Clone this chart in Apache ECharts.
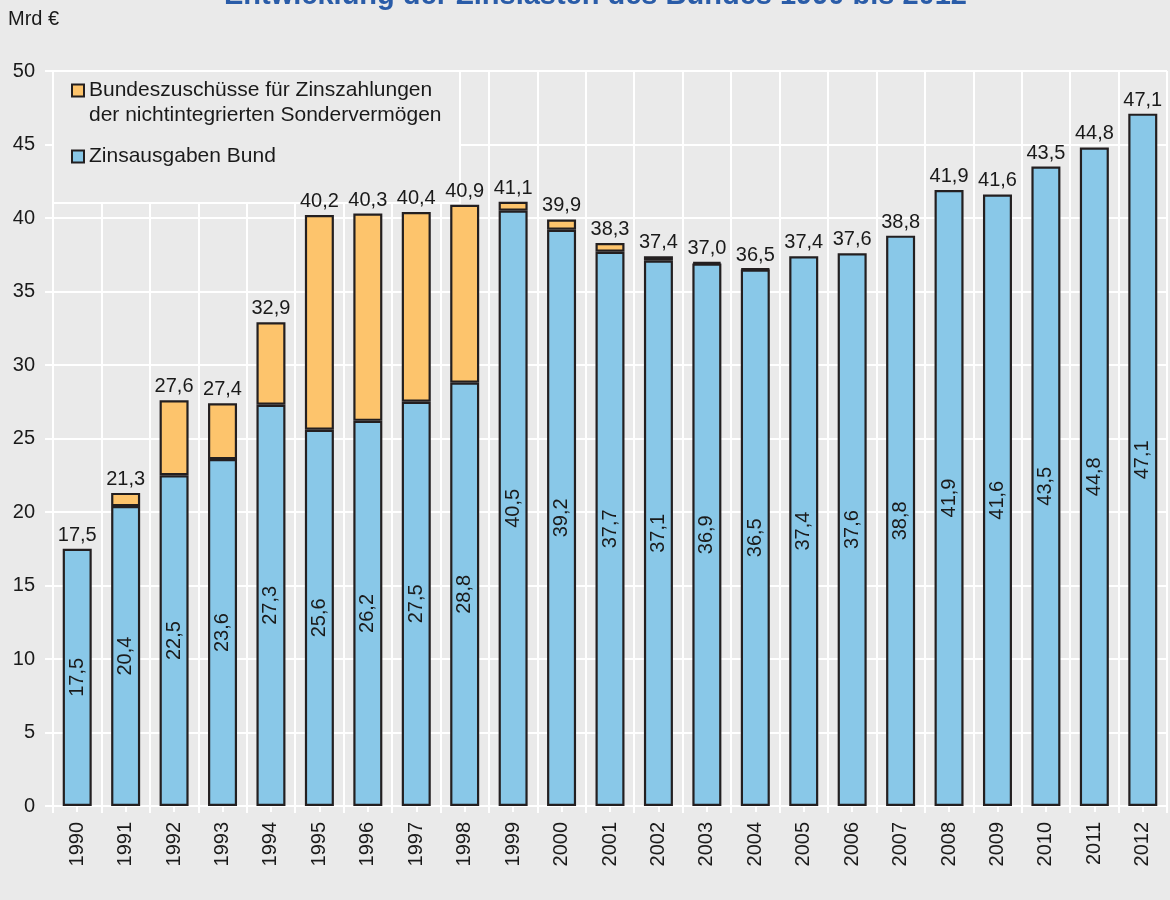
<!DOCTYPE html>
<html>
<head>
<meta charset="utf-8">
<script src="https://cdn.jsdelivr.net/npm/echarts@6/dist/echarts.min.js"></script>
<style>
html,body{margin:0;padding:0;background:#eaeaea;}
#chart{width:1170px;height:900px;}
</style>
</head>
<body>
<div id="chart"></div>
<script>
const years = ['1990','1991','1992','1993','1994','1995','1996','1997','1998','1999','2000','2001','2002','2003','2004','2005','2006','2007','2008','2009','2010','2011','2012'];
const zinsausgabenBund = [17.5,20.4,22.5,23.6,27.3,25.6,26.2,27.5,28.8,40.5,39.2,37.7,37.1,36.9,36.5,37.4,37.6,38.8,41.9,41.6,43.5,44.8,47.1];
const bundeszuschuesse = [0,0.9,5.1,3.8,5.6,14.6,14.1,12.9,12.1,0.6,0.7,0.6,0.3,0.1,0.05,0,0,0,0,0,0,0,0];
const totals = [17.5,21.3,27.6,27.4,32.9,40.2,40.3,40.4,40.9,41.1,39.9,38.3,37.4,37.0,36.5,37.4,37.6,38.8,41.9,41.6,43.5,44.8,47.1];
const yTicks = {min:0, max:50, interval:5};

const nameOrange = 'Bundeszuschüsse für Zinszahlungen\nder nichtintegrierten Sondervermögen';
const nameBlue = 'Zinsausgaben Bund';
const FONT = 'Liberation Sans, Arial, sans-serif';
const TXT = '#1a1a1a';
const fmt = v => Number(v).toFixed(1).replace('.', ',');

const chart = echarts.init(document.getElementById('chart'));
const white = '#ffffff';
chart.setOption({
  backgroundColor:'#eaeaea',
  animation:false,
  textStyle:{fontFamily:FONT},
  title:{
    text:'Entwicklung der Zinslasten des Bundes 1990 bis 2012',
    left:219, top:-24,
    textStyle:{fontFamily:FONT, fontSize:29, fontWeight:'bold', color:'#2a5ca8'}
  },
  graphic:[
    {type:'text', left:8, top:9, style:{text:'Mrd €', fontFamily:FONT, fontSize:20, fill:TXT}},
    {type:'rect', z:1, shape:{x:53, y:71, width:407, height:132}, style:{fill:'#eaeaea', stroke:white, lineWidth:2}}
  ],
  legend:{
    orient:'vertical', left:71, top:53, padding:0, itemGap:16,
    itemWidth:12, itemHeight:12, icon:'rect',
    data:[nameOrange, nameBlue],
    formatter: n => (n === nameOrange ? '\n' + n : n),
    textStyle:{fontFamily:FONT, fontSize:21, color:TXT, lineHeight:25}
  },
  grid:{left:53, right:3, top:71, bottom:94},
  xAxis:[
    {type:'category', data:years, boundaryGap:true,
     axisLine:{lineStyle:{color:white, width:2}},
     axisTick:{show:true, alignWithLabel:true, length:6, lineStyle:{color:white, width:2}},
     axisLabel:{rotate:90, fontSize:20, color:TXT, margin:16, fontFamily:FONT},
     splitLine:{show:true, lineStyle:{color:white, width:2}}},
    {type:'category', data:years, boundaryGap:true, position:'bottom',
     axisLine:{show:false},
     axisTick:{show:true, length:7, lineStyle:{color:white, width:2}},
     axisLabel:{show:false}, splitLine:{show:false}},
    {type:'category', data:years, boundaryGap:true, position:'bottom',
     axisLine:{show:false},
     axisTick:{show:true, inside:true, alignWithLabel:true, length:6, lineStyle:{color:white, width:2}},
     axisLabel:{show:false}, splitLine:{show:false}}
  ],
  yAxis:{
    type:'value', min:yTicks.min, max:yTicks.max, interval:yTicks.interval,
    axisLine:{show:true, lineStyle:{color:white, width:2}},
    axisTick:{show:true, length:8, lineStyle:{color:white, width:2}},
    axisLabel:{fontSize:20, color:TXT, margin:18, fontFamily:FONT},
    splitLine:{show:true, lineStyle:{color:white, width:2}}
  },
  series:[
    {name:nameBlue, type:'bar', stack:'s', data:zinsausgabenBund, barWidth:29, z:10,
     itemStyle:{color:'#89c8e8', borderColor:'#231f20', borderWidth:2.2},
     label:{show:true, position:'inside', rotate:90, fontSize:20, color:TXT, fontFamily:FONT,
            formatter:p=>fmt(p.value)}},
    {name:nameOrange, type:'bar', stack:'s', barWidth:29, z:10,
     data:bundeszuschuesse.map(v => (v === 0 ? '-' : v)),
     itemStyle:{color:'#fdc46c', borderColor:'#231f20', borderWidth:2.2}},
    {name:'total', type:'scatter', data:totals, symbolSize:1, z:11,
     itemStyle:{color:'rgba(0,0,0,0)', opacity:1},
     label:{show:true, position:'top', distance:3, fontSize:20, color:TXT, opacity:1, fontFamily:FONT,
            formatter:p=>fmt(p.value)}}
  ]
});
</script>
</body>
</html>
